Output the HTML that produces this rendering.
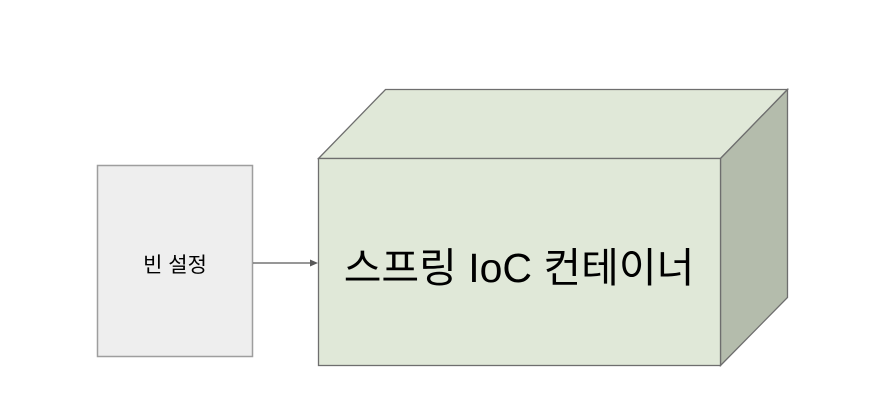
<!DOCTYPE html>
<html><head><meta charset="utf-8"><style>
html,body{margin:0;padding:0;background:#fff;}
</style></head><body>
<svg width="876" height="414" xmlns="http://www.w3.org/2000/svg">
<rect width="876" height="414" fill="#fff"/>
<rect x="97.5" y="165.5" width="155" height="191" fill="#eeeeee" stroke="#9e9e9e" stroke-width="1.5"/>
<text x="175" y="272" font-family="Liberation Sans, 'Noto Sans CJK KR', sans-serif" font-size="21" text-anchor="middle" fill="#000">빈 설정</text>
<line x1="253" y1="263" x2="311" y2="263" stroke="#595959" stroke-width="1.3"/>
<polygon points="318,263 310,259.5 310,266.5" fill="#595959"/>
<polygon points="318.5,158.5 385.5,89.5 787.5,89.5 720.5,158.5" fill="#e0e8d8" stroke="#6e6e6e" stroke-width="1.3"/>
<polygon points="720.5,158.5 787.5,89.5 787.5,297.5 720.5,365.5" fill="#b4bcac" stroke="#6e6e6e" stroke-width="1.3"/>
<rect x="318.5" y="158.5" width="402" height="207" fill="#e0e8d8" stroke="#6e6e6e" stroke-width="1.3"/>
<text x="519" y="282" font-family="Liberation Sans, 'Noto Sans CJK KR', sans-serif" font-size="41" text-anchor="middle" fill="#000">스프링 IoC 컨테이너</text>
</svg>
</body></html>
